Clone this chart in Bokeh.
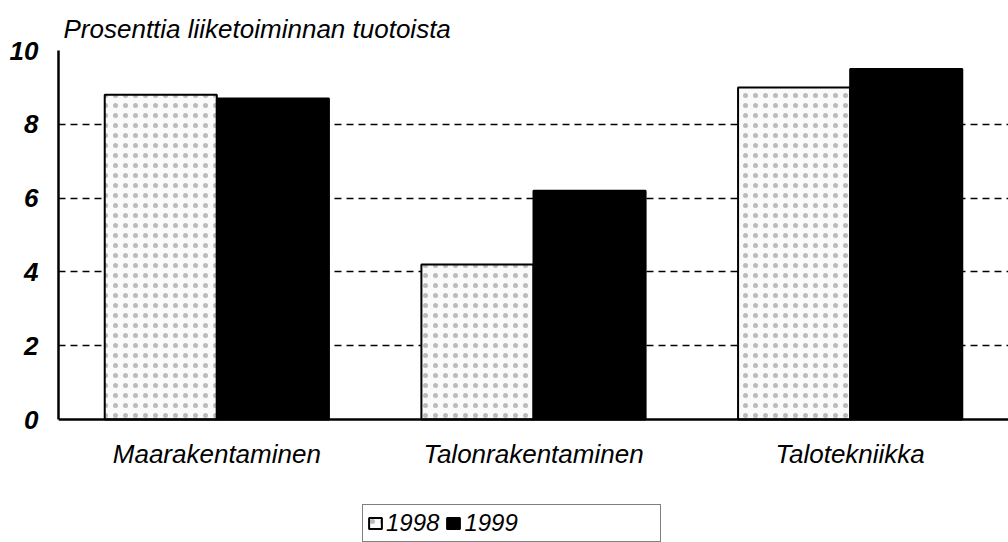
from bokeh.plotting import figure
from bokeh.models import (ColumnDataSource, FactorRange, FixedTicker, Legend, LegendItem,
                          Range1d, CategoricalAxis)
from bokeh.transform import dodge
from bokeh.embed import file_html
from bokeh.resources import INLINE

categories = ["Maarakentaminen", "Talonrakentaminen", "Talotekniikka"]
v1998 = [8.8, 4.2, 9.0]
v1999 = [8.7, 6.2, 9.5]
years = ["1998", "1999"]
y_ticks = [0, 2, 4, 6, 8, 10]
title_text = "Prosenttia liiketoiminnan tuotoista"

FONT = "Liberation Sans"

src = ColumnDataSource(dict(cat=categories, y1998=v1998, y1999=v1999))

# frame spans from the 10-line down to the bottom of the page; the region
# below 0 holds the category labels and the legend
p = figure(width=1008, height=542, output_backend="svg", toolbar_location=None,
           x_range=FactorRange(*categories, range_padding=0),
           y_range=Range1d(-3.333, 10),
           min_border_left=58, min_border_right=0, min_border_top=50,
           min_border_bottom=0, x_axis_location=None)

p.title.text = title_text
p.title.text_font = FONT
p.title.text_font_style = "italic"
p.title.text_font_size = "26px"
p.title.text_color = "black"
p.title.offset = 5
p.title.standoff = 14

bw = 0.354
r1 = p.vbar(x=dodge("cat", -bw / 2, range=p.x_range), top="y1998", width=bw, source=src,
            fill_color="#fafafa", line_color="black", line_width=2,
            hatch_pattern="dot", hatch_color="black", hatch_scale=10,
            hatch_alpha=0.25, hatch_weight=1)
r2 = p.vbar(x=dodge("cat", bw / 2, range=p.x_range), top="y1999", width=bw, source=src,
            fill_color="black", line_color="black", line_width=2)
r3 = p.vbar(x=dodge("cat", 0, range=p.x_range), top="y1999", width=0.01, source=src,
            fill_alpha=0, line_alpha=0)

p.outline_line_color = None
p.xgrid.grid_line_color = None
p.ygrid.ticker = FixedTicker(ticks=y_ticks[1:])
p.ygrid.grid_line_color = "black"
p.ygrid.grid_line_width = 1.6
p.ygrid.grid_line_dash = "7 5"

xax = CategoricalAxis(fixed_location=0)
p.add_layout(xax, "below")

p.yaxis.ticker = FixedTicker(ticks=y_ticks)
p.yaxis.bounds = (0, 10)
for ax in (xax, p.yaxis[0]):
    ax.axis_line_color = "black"
    ax.axis_line_width = 2.5
    ax.major_tick_line_color = None
    ax.minor_tick_line_color = None
    ax.major_label_text_font = FONT
    ax.major_label_text_font_style = "italic"
    ax.major_label_text_font_size = "26px"
    ax.major_label_text_color = "black"
p.yaxis.major_label_text_font_style = "bold italic"
p.yaxis.major_label_standoff = 14
xax.major_label_standoff = 13

legend = Legend(items=[LegendItem(label=years[0], renderers=[r1]),
                       LegendItem(label=years[1], renderers=[r2]),
                       LegendItem(label="\u00a0" * 17, renderers=[r3])],
                orientation="horizontal", location=(304, 0),
                border_line_color="black", border_line_width=1.5,
                label_text_font=FONT, label_text_font_style="italic",
                label_text_font_size="24px", label_text_color="black",
                label_standoff=3,
                glyph_width=16, glyph_height=14, spacing=6, padding=4,
                margin=0, background_fill_color="white")
p.add_layout(legend, "center")

open("out.html", "w").write(file_html(p, INLINE))
